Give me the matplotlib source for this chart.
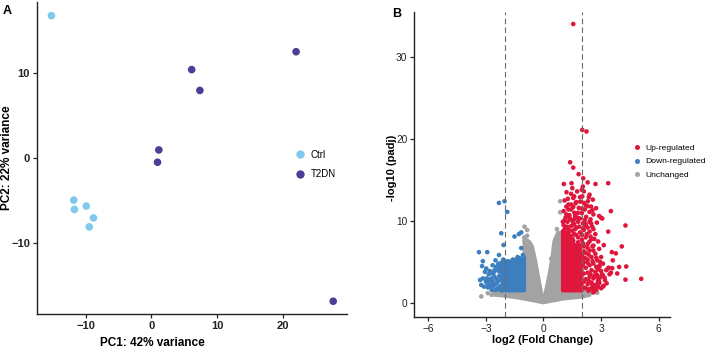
import matplotlib
matplotlib.use("Agg")
import matplotlib.pyplot as plt
from matplotlib.lines import Line2D

plt.rcParams['font.family'] = ['Liberation Sans', 'DejaVu Sans']

# ---------------- Panel A data (PCA) ----------------
ctrl_pc1 = [-15.2, -11.8, -11.7, -9.9, -8.8, -9.45]
ctrl_pc2 = [16.8, -4.9, -6.0, -5.6, -7.0, -8.05]
t2dn_pc1 = [22.05, 6.15, 7.4, 1.15, 0.95, 27.7]
t2dn_pc2 = [12.55, 10.45, 8.0, 1.0, -0.45, -16.8]
pca_xticks = [-10, 0, 10, 20]
pca_yticks = [-10, 0, 10]
group_labels = ["Ctrl", "T2DN"]

# ---------------- Panel B data (volcano) ----------------
# dense cores of the point clouds (outline vertices, log2FC / -log10 padj)
gray_core_x = [-2.6, -2.6, -2.0, -1.5, -1.0, -0.5, 0.0, 0.5, 1.0, 1.5, 2.0, 2.4,
               2.5, 2.4, 1.0, 1.0, 0.75, 0.55, 0.45, 0.3, 0.15, 0.05, 0.0,
               -0.08, -0.17, -0.3, -0.45, -0.6, -0.8, -1.0, -1.0]
gray_core_y = [1.55, 1.0, 0.85, 0.7, 0.5, 0.28, 0.05, 0.28, 0.5, 0.62, 0.75, 0.95,
               1.4, 1.55, 1.55, 8.5, 8.6, 7.5, 5.5, 3.5, 1.8, 0.8, 0.4,
               0.8, 2.0, 3.6, 5.5, 7.0, 7.6, 7.8, 1.55]
up_core_x = [1.0, 2.0, 2.0, 1.8, 1.5, 1.2, 1.0]
up_core_y = [1.5, 1.5, 6.0, 6.5, 7.5, 8.5, 8.8]
down_core_x = [-1.0, -1.0, -1.2, -1.5, -1.8, -2.1, -2.15]
down_core_y = [1.5, 5.6, 5.4, 5.3, 5.0, 4.6, 1.5]

# individual genes outside the dense cores
up_x = [1.55, 2.02, 2.24, 1.39, 1.55, 1.83, 1.06, 1.46, 2.07, 2.71, 3.37, 2.3,
        3.51, 3.06, 4.27, 3.37, 3.14, 4.08, 3.56, 3.77, 5.09, 4.31, 3.94, 4.27,
        3.4, 3.61, 3.84, 3.51, 3.29, 3.13, 2.6, 2.83, 3.35, 3.58, 3.44, 3.18,
        3.1, 2.05, 2.1, 1.44, 2.02, 2.36, 1.27, 1.55, 2.31, 2.57, 1.91, 1.67,
        1.44, 2.2, 2.48, 2.74, 1.19, 1.84, 1.44, 2.15, 2.4, 1.61, 1.19, 2.0,
        2.6, 2.22, 1.35, 1.77, 3.0, 2.9, 1.01, 1.53, 2.05, 2.48, 2.78, 1.23,
        1.7, 2.3, 2.54, 2.92, 3.27, 2.83, 3.09,
        2.2, 2.4, 2.6, 2.3, 2.5, 2.7, 2.9, 2.2, 2.4, 2.6, 2.8, 2.3, 2.5, 2.7,
        3.0, 2.2, 2.4, 2.6, 2.9, 2.1, 2.3, 2.5, 2.8, 2.0, 2.2, 2.4, 2.7, 1.9,
        2.1, 2.3, 2.6, 2.9, 1.8, 2.0, 2.2, 2.5, 1.7, 1.9, 2.1, 2.4, 1.5, 1.6,
        1.8, 2.2, 2.7, 2.85, 3.0, 3.1, 2.95, 3.2, 2.35, 2.75, 3.0, 1.95, 1.85,
        1.7, 1.55, 1.4, 1.3, 1.1, 1.2, 1.15, 1.4, 1.65, 1.9, 2.45, 2.15, 1.05,
        1.3, 1.55, 2.55, 1.75, 1.2,
        1.05, 1.25, 1.45, 1.65, 1.85, 2.05, 2.25, 2.45, 2.6, 1.1, 1.35, 1.6,
        1.8, 2.0, 2.3, 2.1, 1.9, 1.6, 1.3, 1.1, 1.9, 2.05, 2.3, 2.55, 2.65,
        2.4, 2.1, 2.35, 2.6, 2.75, 2.55, 2.15, 2.05, 2.3, 2.75, 2.1, 2.45,
        2.65, 2.85, 2.1, 2.35, 2.55, 2.8, 2.1, 2.5, 2.65, 2.9, 2.85, 3.05,
        2.95, 1.7, 1.5, 1.3, 1.15, 1.35, 1.6, 1.8, 2.0, 2.2, 2.4, 1.7, 2.4,
        2.0, 1.5]
up_y = [34.0, 21.1, 20.9, 17.15, 16.5, 15.7, 14.5, 14.6, 15.2, 14.5, 14.6, 14.7,
        11.2, 10.3, 9.45, 8.7, 7.05, 6.9, 6.2, 6.05, 2.95, 4.45, 4.4, 2.85,
        4.3, 5.2, 3.6, 3.7, 2.4, 2.1, 1.3, 2.0, 4.2, 4.25, 3.5, 3.1,
        2.0, 14.2, 13.6, 13.3, 13.0, 12.9, 12.7, 12.8, 12.4, 12.6, 12.35, 12.15,
        12.0, 11.9, 11.75, 11.55, 11.75, 11.6, 11.4, 11.4, 11.1, 11.0, 10.8, 10.95,
        10.8, 10.5, 10.4, 10.4, 10.4, 10.6, 9.9, 9.9, 9.7, 9.7, 9.8, 9.3,
        9.2, 9.2, 9.3, 4.45, 4.0, 2.6, 3.4,
        1.8, 1.7, 1.9, 2.3, 2.5, 2.2, 2.6, 2.9, 3.2, 3.0, 3.4, 3.7, 4.0, 3.8,
        3.9, 4.3, 4.6, 4.8, 4.5, 5.0, 5.3, 5.6, 5.2, 5.8, 6.1, 6.4, 6.0, 6.6,
        6.9, 7.2, 7.0, 6.6, 7.4, 7.7, 8.0, 7.8, 8.3, 8.6, 8.9, 8.7, 8.8, 9.6,
        9.9, 9.6, 8.4, 7.5, 5.6, 4.8, 3.1, 2.8, 1.5, 1.6, 1.8, 5.3, 6.0,
        7.0, 7.6, 8.2, 9.0, 9.0, 8.4, 10.4, 10.2, 10.6, 10.3, 10.2, 10.1, 11.2,
        11.4, 11.7, 11.3, 13.6, 13.5,
        9.5, 9.9, 9.4, 9.0, 9.3, 9.1, 8.4, 8.1, 9.0, 10.1, 10.7, 10.2,
        11.0, 11.5, 11.8, 12.2, 12.9, 13.0, 12.0, 12.5, 7.0, 7.3, 6.7, 6.9, 7.8,
        7.5, 6.3, 5.9, 6.4, 5.5, 5.1, 5.5, 4.7, 4.9, 4.4, 3.6, 3.5,
        3.3, 3.0, 2.6, 2.7, 2.2, 2.0, 1.9, 1.8, 1.55, 2.4, 4.1, 3.5,
        5.0, 6.8, 7.9, 8.6, 8.0, 7.4, 8.4, 8.0, 8.3, 9.4, 9.9, 12.3, 13.2,
        13.8, 14.0]
down_x = [-2.32, -2.03, -1.89, -2.2, -2.08, -1.51, -1.28, -1.16, -3.36, -2.93,
          -2.32, -3.16, -2.98, -3.16, -3.24, -2.81, -2.64, -2.73, -2.38, -2.46,
          -2.11, -2.55, -2.25, -2.24, -1.85, -1.51, -1.25, -1.07, -1.16,
          -1.1, -1.3, -1.45, -1.7, -1.95, -2.2, -2.05, -2.3, -2.4, -2.15, -2.6,
          -2.5, -2.2, -2.9, -3.0, -2.7, -2.85, -2.55, -2.65, -3.05, -1.35, -1.6,
          -1.85, -2.0, -2.35, -3.2, -3.3,
          -2.2, -2.4, -2.6, -2.35, -2.2, -2.45, -2.65, -2.3, -2.5, -2.75, -2.9,
          -2.95, -2.8, -2.4, -2.7, -2.2, -3.1, -2.25, -2.5, -2.1]
down_y = [12.2, 12.4, 11.1, 8.5, 7.07, 8.1, 8.4, 8.6, 6.2, 6.2,
          5.85, 5.1, 4.2, 3.0, 2.2, 2.8, 3.6, 2.3, 1.8, 4.4,
          4.6, 3.2, 2.8, 3.8, 4.75, 5.0, 5.45, 5.85, 6.7,
          5.3, 5.2, 4.9, 4.9, 4.4, 4.2, 3.4, 3.3, 2.5, 2.2, 2.1,
          1.6, 1.6, 1.9, 2.6, 3.0, 3.5, 4.0, 4.6, 3.8, 5.6, 5.3,
          5.1, 5.0, 4.8, 4.5, 2.8,
          4.9, 4.4, 3.7, 3.9, 3.0, 2.9, 2.6, 2.0, 2.3, 2.0, 2.3,
          3.0, 3.9, 1.7, 1.6, 1.55, 2.0, 4.5, 5.2, 5.3]
unch_x = [-0.99, -0.85, -0.99, -0.73, -0.9, 0.87, 0.87, 0.63, 0.4, 0.8, 0.95,
          -3.24, -2.9, -2.7, -2.5, 2.5, 2.8, -0.6, 0.55, -1.0, -0.85, 0.7]
unch_y = [9.3, 8.9, 7.5, 7.35, 6.6, 12.4, 11.06, 7.8, 5.4, 8.3, 8.6,
          0.8, 1.2, 1.0, 1.1, 1.3, 1.25, 6.4, 6.6, 8.0, 8.2, 9.0]
volcano_xticks = [-6, -3, 0, 3, 6]
volcano_yticks = [0, 10, 20, 30]
fc_cut = [-2, 2]
status_labels = ["Up-regulated", "Down-regulated", "Unchanged"]

# ---------------- styling ----------------
c_ctrl = "#7FC9EF"
c_t2dn = "#4A3E96"
c_up = "#E0173C"
c_down = "#3C7EBE"
c_unch = "#A3A3A3"
W, H = 707, 353

fig = plt.figure(figsize=(W / 100, H / 100), dpi=100)

def style_axes(ax, bold_ticks):
    for s in ["top", "right"]:
        ax.spines[s].set_visible(False)
    for s in ["left", "bottom"]:
        ax.spines[s].set_linewidth(1.0)
        ax.spines[s].set_color("#222222")
    ax.tick_params(length=3, width=0.9, colors="#222222", pad=2,
                   labelsize=8 if bold_ticks else 7.3)
    if bold_ticks:
        for t in ax.get_xticklabels() + ax.get_yticklabels():
            t.set_fontweight("bold")

# Panel A
axA = fig.add_axes([37 / W, 1 - 314 / H, (347 - 37) / W, (314 - 2) / H])
axA.scatter(ctrl_pc1, ctrl_pc2, s=30, color=c_ctrl, edgecolors="none", zorder=3)
axA.scatter(t2dn_pc1, t2dn_pc2, s=30, color=c_t2dn, edgecolors="none", zorder=3)
axA.set_xlim(-17.4, 29.8)
axA.set_ylim(-18.3, 18.4)
axA.set_xticks(pca_xticks)
axA.set_yticks(pca_yticks)
style_axes(axA, True)
fig.text(152 / W, 1 - 343 / H, "PC1: 42% variance", ha="center", va="center",
         fontsize=8.5, fontweight="bold")
fig.text(7 / W, 1 - 158 / H, "PC2: 22% variance", ha="center", va="center",
         rotation=90, fontsize=8.5, fontweight="bold")
fig.text(3 / W, 1 - 11 / H, "A", ha="left", va="center", fontsize=9, fontweight="bold")
hA = [Line2D([], [], marker="o", ls="", ms=6, color=c, mec="none") for c in (c_ctrl, c_t2dn)]
fig.legend(hA, group_labels, loc="center left", bbox_to_anchor=(295 / W, 1 - 164.5 / H),
           frameon=False, fontsize=7, handlelength=1.0, handletextpad=0.6,
           labelspacing=0.95, borderpad=0, borderaxespad=0)

# Panel B
axB = fig.add_axes([414.3 / W, 1 - 317.3 / H, (670 - 414.3) / W, (317.3 - 11.7) / H])
axB.fill(gray_core_x, gray_core_y, color=c_unch, lw=2.5, joinstyle="round", zorder=1)
axB.scatter(unch_x, unch_y, s=11, color=c_unch, edgecolors="none", zorder=1)
axB.fill(down_core_x, down_core_y, color=c_down, lw=2.5, joinstyle="round", zorder=2)
axB.scatter(down_x, down_y, s=11, color=c_down, edgecolors="none", zorder=2)
axB.fill(up_core_x, up_core_y, color=c_up, lw=2.5, joinstyle="round", zorder=2)
axB.scatter(up_x, up_y, s=11, color=c_up, edgecolors="none", zorder=2)
for xc in fc_cut:
    axB.axvline(xc, color="#6a6a6a", lw=0.8, ls=(0, (5, 3)), zorder=4)
axB.set_xlim(-6.73, 6.59)
axB.set_ylim(-1.74, 35.5)
axB.set_xticks(volcano_xticks)
axB.set_yticks(volcano_yticks)
style_axes(axB, False)
fig.text(543 / W, 1 - 340 / H, "log2 (Fold Change)", ha="center", va="center",
         fontsize=8, fontweight="bold")
fig.text(392 / W, 1 - 168 / H, "-log10 (padj)", ha="center", va="center",
         rotation=90, fontsize=8, fontweight="bold")
fig.text(392 / W, 1 - 14 / H, "B", ha="left", va="center", fontsize=9, fontweight="bold")
hB = [Line2D([], [], marker="o", ls="", ms=3.6, color=c, mec="none") for c in (c_up, c_down, c_unch)]
fig.legend(hB, status_labels, loc="center left", bbox_to_anchor=(633 / W, 1 - 161.5 / H),
           frameon=False, fontsize=6.1, handlelength=1.0, handletextpad=0.5,
           labelspacing=0.65, borderpad=0, borderaxespad=0)

fig.savefig("out.png", dpi=100)
